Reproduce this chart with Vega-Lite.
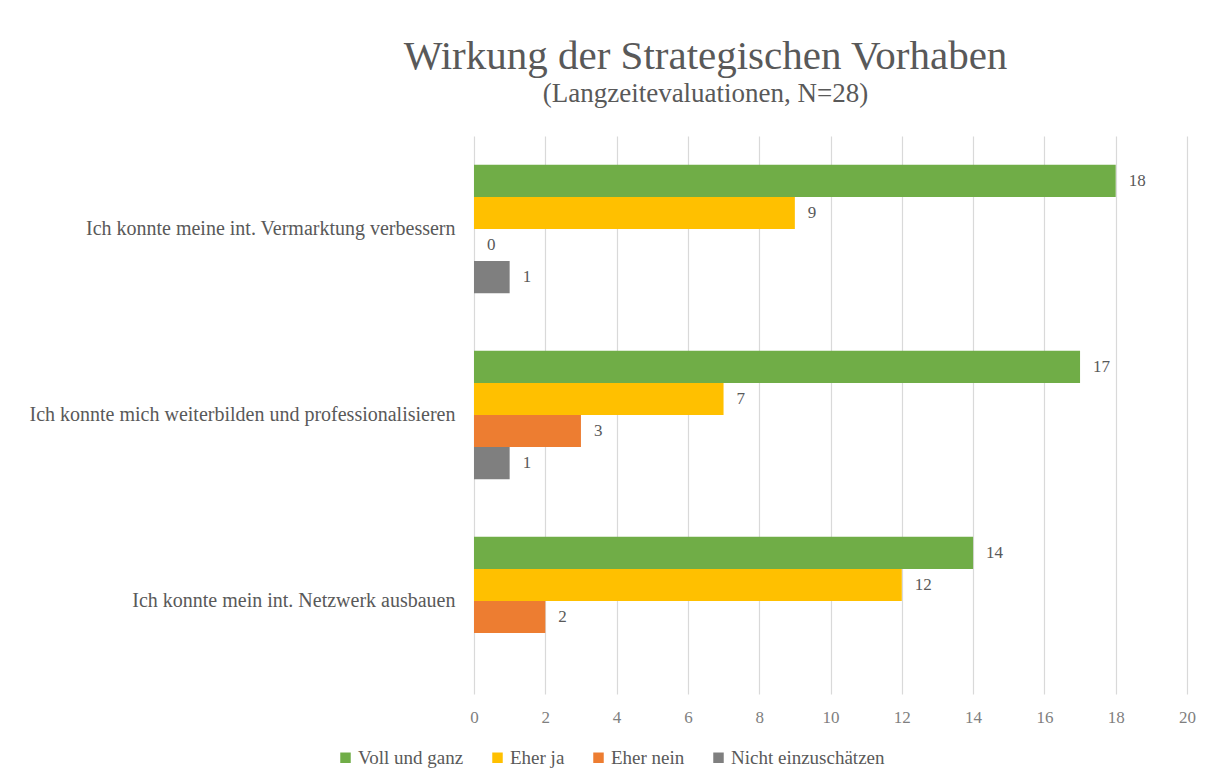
{
  "$schema": "https://vega.github.io/schema/vega-lite/v6.json",
  "autosize": "none",
  "width": 713,
  "height": 558,
  "padding": {"left": 474, "top": 136, "right": 19, "bottom": 87},
  "background": "white",
  "config": {
    "font": "Liberation Serif",
    "view": {"stroke": null}
  },
  "title": {
    "text": "Wirkung der Strategischen Vorhaben",
    "subtitle": "(Langzeitevaluationen, N=28)",
    "anchor": "middle",
    "frame": "group",
    "dx": -125,
    "offset": 28,
    "font": "Liberation Serif",
    "fontSize": 41,
    "fontWeight": "normal",
    "color": "#595959",
    "subtitleFont": "Liberation Serif",
    "subtitleFontSize": 27,
    "subtitleColor": "#595959",
    "subtitlePadding": 3
  },
  "data": {
    "values": [
      {"aussage": "Ich konnte meine int. Vermarktung verbessern", "antwort": "Voll und ganz", "anzahl": 18},
      {"aussage": "Ich konnte meine int. Vermarktung verbessern", "antwort": "Eher ja", "anzahl": 9},
      {"aussage": "Ich konnte meine int. Vermarktung verbessern", "antwort": "Eher nein", "anzahl": 0},
      {"aussage": "Ich konnte meine int. Vermarktung verbessern", "antwort": "Nicht einzuschätzen", "anzahl": 1},
      {"aussage": "Ich konnte mich weiterbilden und professionalisieren", "antwort": "Voll und ganz", "anzahl": 17},
      {"aussage": "Ich konnte mich weiterbilden und professionalisieren", "antwort": "Eher ja", "anzahl": 7},
      {"aussage": "Ich konnte mich weiterbilden und professionalisieren", "antwort": "Eher nein", "anzahl": 3},
      {"aussage": "Ich konnte mich weiterbilden und professionalisieren", "antwort": "Nicht einzuschätzen", "anzahl": 1},
      {"aussage": "Ich konnte mein int. Netzwerk ausbauen", "antwort": "Voll und ganz", "anzahl": 14},
      {"aussage": "Ich konnte mein int. Netzwerk ausbauen", "antwort": "Eher ja", "anzahl": 12},
      {"aussage": "Ich konnte mein int. Netzwerk ausbauen", "antwort": "Eher nein", "anzahl": 2}
    ]
  },
  "encoding": {
    "y": {
      "field": "aussage",
      "type": "nominal",
      "sort": null,
      "scale": {"paddingInner": 0.31, "paddingOuter": 0.155},
      "axis": {
        "title": null,
        "domain": false,
        "ticks": false,
        "labelFont": "Liberation Serif",
        "labelFontSize": 20,
        "labelColor": "#595959",
        "labelPadding": 19,
        "labelLimit": 600
      }
    },
    "yOffset": {
      "field": "antwort",
      "type": "nominal",
      "scale": {"domain": ["Voll und ganz", "Eher ja", "Eher nein", "Nicht einzuschätzen"], "paddingInner": 0, "paddingOuter": 0}
    },
    "x": {
      "field": "anzahl",
      "type": "quantitative",
      "scale": {"domain": [0, 20], "nice": false},
      "axis": {
        "title": null,
        "values": [0, 2, 4, 6, 8, 10, 12, 14, 16, 18, 20],
        "domain": false,
        "ticks": false,
        "grid": true,
        "gridColor": "#d9d9d9",
        "gridWidth": 1.2,
        "labelFlush": false,
        "labelFont": "Liberation Serif",
        "labelFontSize": 17,
        "labelColor": "#7f7f7f",
        "labelPadding": 15
      }
    }
  },
  "layer": [
    {
      "mark": {"type": "bar"},
      "encoding": {
        "color": {
          "field": "antwort",
          "type": "nominal",
          "scale": {
            "domain": ["Voll und ganz", "Eher ja", "Eher nein", "Nicht einzuschätzen"],
            "range": ["#70AD47", "#FFC000", "#ED7D31", "#7F7F7F"]
          },
          "legend": {
            "title": null,
            "orient": "none",
            "direction": "horizontal",
            "legendX": -138,
            "legendY": 612,
            "symbolType": "square",
            "symbolSize": 110,
            "symbolStrokeWidth": 0,
            "symbolOpacity": 1,
            "labelFont": "Liberation Serif",
            "labelFontSize": 19,
            "labelColor": "#595959",
            "labelOffset": 3,
            "columnPadding": 24
          }
        }
      }
    },
    {
      "mark": {"type": "text", "align": "left", "baseline": "middle", "dx": 13, "font": "Liberation Serif", "fontSize": 17, "color": "#595959"},
      "encoding": {
        "text": {"field": "anzahl", "type": "quantitative"}
      }
    }
  ]
}
